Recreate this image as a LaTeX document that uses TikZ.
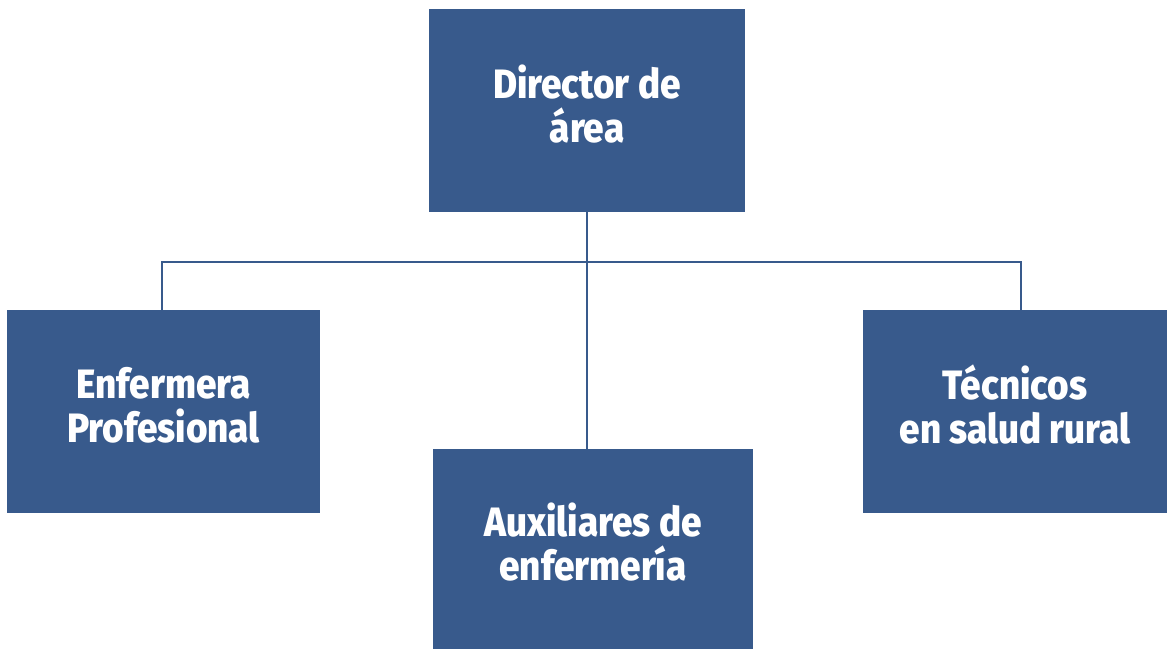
\documentclass[tikz,border=0pt]{standalone}
\usepackage{fontspec}
\setmainfont{Fira Sans}[FakeStretch=0.9, BoldFont={Fira Sans ExtraBold}]
\usetikzlibrary{positioning,calc}
\definecolor{orgblue}{HTML}{385A8C}
\tikzset{unit/.style={
        rectangle,
        fill=orgblue,
        text=white,
        align=center,
        inner sep=0pt,
        text depth=14pt,
        minimum height=203pt,
        font=\fontsize{41}{44}\selectfont\bfseries,
    },
    link/.style={draw=orgblue, line width=2pt}
}
\begin{document}
\begin{tikzpicture}[x=1pt,y=1pt]
  \useasboundingbox (0,0) rectangle (1167,649);
  \node[unit, minimum width=316pt] (dir) at (587,538.5) {Director de\\área};
  \node[unit, minimum width=313pt] (enf) at (163.5,237.5) {Enfermera\\Profesional};
  \node[unit, minimum width=304pt] (tec) at (1015,237.5) {Técnicos\\en salud rural};
  \node[unit, minimum width=320pt, minimum height=200pt] (aux) at (593,100) {Auxiliares de\\enfermería};
  \coordinate (bus) at (587,387);
  % lines between the boxes
  \draw[link] (dir.south) -- (dir.south |- aux.north);
  \draw[link] ([xshift=-1.5pt]enf.north) |- (bus) -| ([xshift=6pt]tec.north);
\end{tikzpicture}
\end{document}
